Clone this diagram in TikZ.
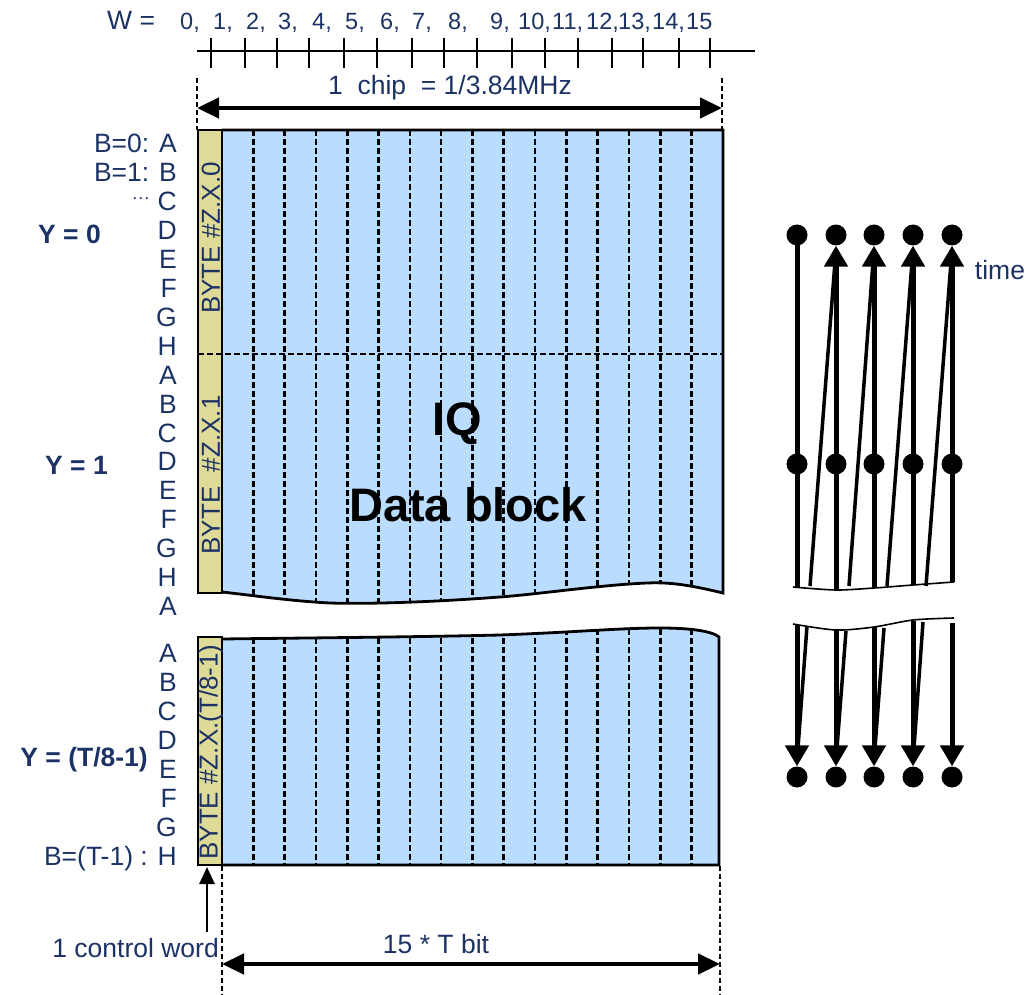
\documentclass[tikz,border=0pt]{standalone}
\usepackage{fontspec}
\setmainfont{Liberation Sans}
\usetikzlibrary{arrows.meta}
\definecolor{navy}{RGB}{28,50,100}
\definecolor{khaki}{RGB}{222,218,152}
\definecolor{lblue}{RGB}{186,220,255}
\newcommand\fsz[1]{\fontsize{#1}{#1}\selectfont}
\begin{document}
\begin{tikzpicture}[x=1pt,y=-1pt,
 lab/.style={text=navy,inner sep=0pt,font=\fsz{26.5}},
 num/.style={text=navy,inner sep=0pt,font=\fsz{23.5},anchor=base west},
 ylab/.style={text=navy,inner sep=0pt,font=\fsz{26.5}\bfseries},
 bytelab/.style={text=navy,inner sep=0pt,font=\fsz{26},rotate=90},
 guide/.style={line width=1.8pt,dash pattern=on 5pt off 3pt},
 gridline/.style={line width=2.6pt,dash pattern=on 6pt off 3pt},
 dimarrow/.style={line width=4.5pt,{Triangle[length=22pt,width=20pt]}-{Triangle[length=22pt,width=20pt]}},
 dot/.style={circle,fill=black,inner sep=0pt,minimum size=21pt},
 vline/.style={line width=5pt},
 dline/.style={line width=3.5pt},
 tip/.style={-{Triangle[length=21pt,width=23pt]}},
 border/.style={line width=2.8pt},
]
\useasboundingbox (0,0) rectangle (1029,995);

% ---------- ruler ----------
\node[lab,anchor=base west] (wlab) at (107,30) {W =};
\foreach \n/\x in {0/180,1/213,2/246,3/278,4/312,5/345,6/380,7/412,8/448,9/490,10/518,11/552,12/586,13/618,14/652}
  {\node[num] (w\n) at (\x,30) {\n,};}
\node[num] (w15) at (686,30) {15};
\coordinate (rl) at (197,51);
\coordinate (rr) at (755,51);
\draw[line width=2.5pt] (rl) -- (rr);
\foreach \t in {211,245,277,309,344,377,412,444,477,512,545,578,612,643,679,710}
  {\draw[line width=2.5pt] (\t,38) -- (\t,68);}

% ---------- chip dimension ----------
\coordinate (gtl) at (197,78);
\coordinate (gtlb) at (197,130);
\coordinate (gtr) at (722,78);
\coordinate (gtrb) at (722,130);
\draw[guide] (gtl) -- (gtlb);
\draw[guide] (gtr) -- (gtrb);
\coordinate (cl) at (197,108);
\coordinate (cr) at (722,108);
\draw[dimarrow] (cl) -- (cr);
\node[lab] (chip) at (450,88) {1\ \ chip\ \ = 1/3.84MHz};

% ---------- upper block ----------
\path[fill=lblue] (222,130) -- (723,130) -- (723,593)
  .. controls (690,585) and (670,582) .. (647,583)
  .. controls (600,585) and (540,594) .. (500,597)
  .. controls (420,603) and (360,604) .. (330,603)
  .. controls (290,601) and (250,595) .. (222,592) -- cycle;
\begin{scope}
\clip (222,130) -- (723,130) -- (723,593)
  .. controls (690,585) and (670,582) .. (647,583)
  .. controls (600,585) and (540,594) .. (500,597)
  .. controls (420,603) and (360,604) .. (330,603)
  .. controls (290,601) and (250,595) .. (222,592) -- cycle;
\foreach \k in {1,...,15} {\draw[gridline] ({222+31.3*\k},130) -- ({222+31.3*\k},620);}
\end{scope}
\draw[border] (222,130) -- (723,130) -- (723,593)
  .. controls (690,585) and (670,582) .. (647,583)
  .. controls (600,585) and (540,594) .. (500,597)
  .. controls (420,603) and (360,604) .. (330,603)
  .. controls (290,601) and (250,595) .. (222,592);
\draw[border,fill=khaki] (198,130) rectangle (222,593);
\draw[gridline] (198,354) -- (723,354);

% ---------- lower block ----------
\path[fill=lblue] (222,639) .. controls (300,638) and (420,637) .. (500,635)
  .. controls (580,632) and (620,628) .. (660,628)
  .. controls (690,628) and (712,631) .. (719,637) -- (719,865) -- (222,865) -- cycle;
\begin{scope}
\clip (222,639) .. controls (300,638) and (420,637) .. (500,635)
  .. controls (580,632) and (620,628) .. (660,628)
  .. controls (690,628) and (712,631) .. (719,637) -- (719,865) -- (222,865) -- cycle;
\foreach \k in {1,...,15} {\draw[gridline] ({222+31.3*\k},620) -- ({222+31.3*\k},865);}
\end{scope}
\draw[border] (222,639) .. controls (300,638) and (420,637) .. (500,635)
  .. controls (580,632) and (620,628) .. (660,628)
  .. controls (690,628) and (712,631) .. (719,637) -- (719,865) -- (222,865);
\draw[border,fill=khaki] (198,637) rectangle (222,865);

% ---------- texts in blocks ----------
\node[bytelab] (b0) at (211,238) {BYTE \#Z.X.0};
\node[bytelab] (b1) at (211,475) {BYTE\ \ \#Z.X.1};
\node[bytelab] (bt) at (211,752) {BYTE \#Z.X.(T/8-1)};
\node[inner sep=0pt,font=\fsz{47}\bfseries] (iq) at (457,424) {IQ};
\node[inner sep=0pt,font=\fsz{47}\bfseries] (data) at (468,505) {Data block};

% ---------- left labels ----------
\node[lab,anchor=base east] (l0) at (177,153) {B=0: A};
\node[lab,anchor=base east] (l1) at (177,182) {B=1: B};
\node[lab,anchor=base east] (ldots) at (150,204) {\fsz{18}···};
\foreach \k/\c in {2/C,3/D,4/E,5/F,6/G,7/H,8/A,9/B,10/C,11/D,12/E,13/F,14/G,15/H,16/A}
  {\node[lab,anchor=base east] (l\k) at (177,{153+28.9*\k}) {\c};}
\foreach \k/\c in {0/A,1/B,2/C,3/D,4/E,5/F,6/G}
  {\node[lab,anchor=base east] (m\k) at (177,{662+29*\k}) {\c};}
\node[lab,anchor=base east] (m7) at (177,{662+29*7}) {B=(T-1) : H};
\node[ylab,anchor=base west] (y0) at (38,244) {Y = 0};
\node[ylab,anchor=base west] (y1) at (45,474) {Y = 1};
\node[ylab,anchor=base east] (yt) at (148,766) {Y = (T/8-1)};

% ---------- bottom ----------
\coordinate (cwa) at (207,932);
\coordinate (ycb) at (207,867);
\draw[line width=2.8pt,-{Triangle[length=17pt,width=15pt]}] (cwa) -- (ycb);
\node[lab,anchor=base east] (cw) at (219,957) {1 control word};
\coordinate (gbl) at (222,866);
\coordinate (gblb) at (222,995);
\coordinate (gbr) at (720,866);
\coordinate (gbrb) at (720,995);
\draw[guide] (gbl) -- (gblb);
\draw[guide] (gbr) -- (gbrb);
\coordinate (tl) at (222,964);
\coordinate (tr) at (720,964);
\draw[dimarrow] (tl) -- (tr);
\node[lab] (tbit) at (436,944) {15 * T bit};

% ---------- right timing diagram ----------
\foreach \i/\x in {1/797,2/836,3/874,4/913,5/952} {
  \node[dot] (t\i) at (\x,235) {};
  \node[dot] (md\i) at (\x,464) {};
  \node[dot] (bd\i) at (\x,777) {};
}
\coordinate (ub1) at (797,587);
\coordinate (ub2) at (836,590);
\coordinate (ub3) at (874,588);
\coordinate (ub4) at (913,585);
\coordinate (ub5) at (952,582);
\draw[vline] (t1.center) -- (ub1);
\foreach \i in {2,3,4,5} {\draw[vline,tip] (ub\i) -- (t\i);}
\foreach \i/\x/\xn in {1/797/836,2/836/874,3/874/913,4/913/952} {
  \coordinate (ds\i) at ({\x+13},586);
  \coordinate (de\i) at ({\xn-1},262);
  \draw[dline] (ds\i) -- (de\i);
}
\draw[line width=1.6pt] plot[smooth] coordinates {(793,587) (836,590) (874,588) (913,585) (954,582)};

\coordinate (lt1) at (797,625);
\coordinate (lt2) at (836,630);
\coordinate (lt3) at (874,627);
\coordinate (lt4) at (913,621);
\coordinate (lt5) at (952,623);
\foreach \i in {1,2,3,4,5} {\draw[vline,tip] (lt\i) -- (bd\i);}
\foreach \i/\x/\y in {1/797/626,2/836/631,3/874/628,4/913/622} {
  \coordinate (ls\i) at ({\x+10},\y);
  \coordinate (le\i) at ({\x+1},748);
  \draw[dline] (ls\i) -- (le\i);
}
\draw[line width=1.6pt] plot[smooth] coordinates {(793,624) (836,630) (874,627) (913,620) (954,618)};
\node[lab] (time) at (1000,270) {time};
\end{tikzpicture}
\end{document}
